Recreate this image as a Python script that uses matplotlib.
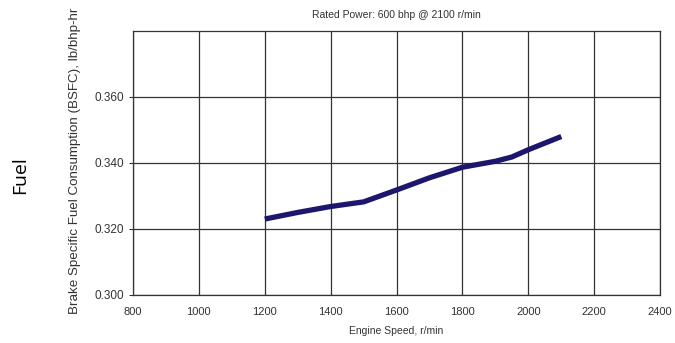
import matplotlib
matplotlib.use('agg')
import matplotlib.pyplot as plt

plt.rcParams['font.family'] = ['Liberation Sans', 'DejaVu Sans']

# BSFC curve, engine speed in r/min vs lb/bhp-hr
speed = [1200, 1300, 1400, 1500, 1600, 1700, 1800, 1900, 1950, 2000, 2100]
bsfc = [0.323, 0.325, 0.3268, 0.3282, 0.3318, 0.3355, 0.3387, 0.3405, 0.3418, 0.3440, 0.3480]

x_ticks = [800, 1000, 1200, 1400, 1600, 1800, 2000, 2200, 2400]
y_ticks = [0.300, 0.320, 0.340, 0.360]

fig = plt.figure(figsize=(6.75, 3.43), dpi=100)
ax = fig.add_axes([0.197, 0.140, 0.781, 0.770])

ax.plot(speed, bsfc, color='#1c176d', lw=3.8, solid_capstyle='butt')

ax.set_xlim(800, 2400)
ax.set_ylim(0.300, 0.380)
ax.set_xticks(x_ticks)
ax.set_yticks(y_ticks)
ax.set_yticklabels([f'{v:.3f}' for v in y_ticks])
ax.grid(True, color='#333333', lw=0.9)
ax.set_axisbelow(True)
for s in ax.spines.values():
    s.set_color('#333333')
    s.set_linewidth(0.9)
ax.tick_params(colors='#333333', length=3, width=0.8)
ax.tick_params(axis='y', labelsize=8.5)
ax.tick_params(axis='x', labelsize=8, length=0, pad=9)

ax.set_title('Rated Power: 600 bhp @ 2100 r/min', fontsize=7.5, color='#333333', pad=9)
ax.set_xlabel('Engine Speed, r/min', fontsize=7.5, color='#333333', labelpad=6)
ax.set_ylabel('Brake Specific Fuel Consumption (BSFC), lb/bhp-hr',
              fontsize=9.6, color='#333333', va='center')
ax.yaxis.set_label_coords(-0.110, 0.508)

fig.text(0.03, 0.49, 'Fuel', rotation=90, fontsize=14, family='Open Sans',
         va='center', ha='center')

fig.savefig('out.png', dpi=100)
